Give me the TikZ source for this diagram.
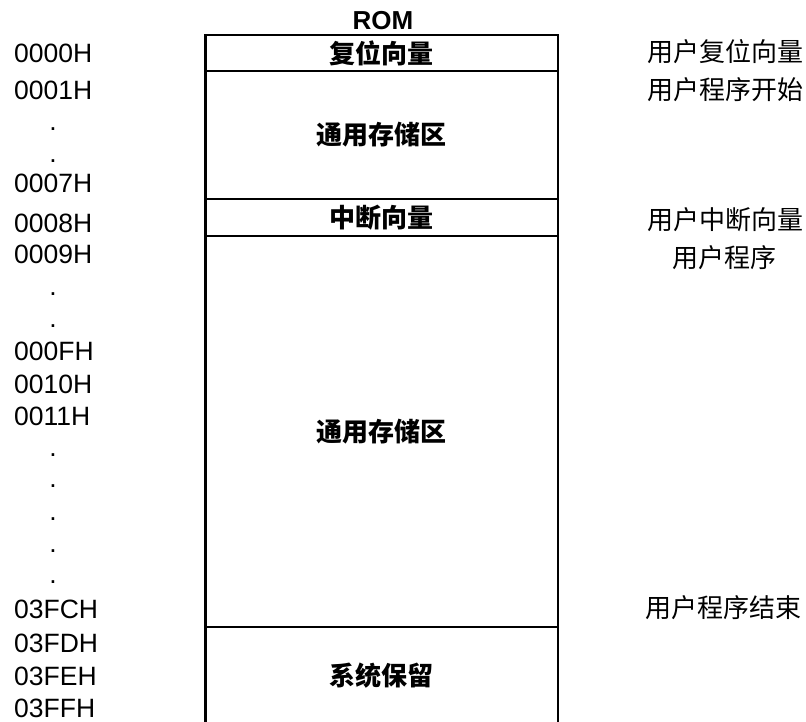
\documentclass[tikz,border=0pt]{standalone}
\usepackage{fontspec}
\setmainfont{Liberation Sans}
\newfontfamily\cjk{Noto Sans CJK SC}
\begin{document}
\begin{tikzpicture}[x=1pt,y=-1pt,
  addr/.style={font=\fontsize{26.5}{30}\selectfont, anchor=base west, inner sep=0pt},
  vdot/.style={font=\fontsize{26.5}{30}\selectfont, anchor=base, inner sep=0pt},
  sect/.style={draw, line width=2.5pt, minimum width=352.5pt, inner sep=0pt,
    font=\cjk\bfseries\fontsize{26}{30}\selectfont},
  note/.style={font=\cjk\fontsize{26}{30}\selectfont, inner sep=0pt, anchor=base west},
  title/.style={font=\bfseries\fontsize{26}{30}\selectfont, inner sep=0pt, anchor=base}]
\useasboundingbox (0,0) rectangle (806,722);

% title
\node[title] (rom) at (383,30) {ROM};

% memory sections
\node[sect, minimum height=36pt]  (s1) at (381.75,53)    {复位向量};
\node[sect, minimum height=128pt] (s2) at (381.75,135)   {通用存储区};
\node[sect, minimum height=37pt]  (s3) at (381.75,217.5) {中断向量};
\node[sect, minimum height=391pt] (s4) at (381.75,431.5) {通用存储区};
\node[sect, minimum height=98pt]  (s5) at (381.75,676)   {系统保留};

% addresses
\node[addr] (a0000) at (14,63)  {0000H};
\node[addr] (a0001) at (14,100) {0001H};
\node[vdot] (d1)    at (53,131) {.};
\node[vdot] (d2)    at (53,163) {.};
\node[addr] (a0007) at (14,193) {0007H};
\node[addr] (a0008) at (14,233) {0008H};
\node[addr] (a0009) at (14,263) {0009H};
\node[vdot] (d3)    at (53,295) {.};
\node[vdot] (d4)    at (53,327) {.};
\node[addr] (a000F) at (14,360) {000FH};
\node[addr] (a0010) at (14,393) {0010H};
\node[addr] (a0011) at (14,425) {0011H};
\node[vdot] (d5)    at (53,456) {.};
\node[vdot] (d6)    at (53,487) {.};
\node[vdot] (d7)    at (53,520) {.};
\node[vdot] (d8)    at (53,552) {.};
\node[vdot] (d9)    at (53,583) {.};
\node[addr] (a03FC) at (14,618) {03FCH};
\node[addr] (a03FD) at (14,652) {03FDH};
\node[addr] (a03FE) at (14,685) {03FEH};
\node[addr] (a03FF) at (14,717) {03FFH};

% notes
\node[note] (n1) at (647,62)  {用户复位向量};
\node[note] (n2) at (647,100) {用户程序开始};
\node[note] (n3) at (647,230) {用户中断向量};
\node[note, anchor=base] (n4) at (724,268) {用户程序};
\node[note] (n5) at (645,617) {用户程序结束};
\end{tikzpicture}
\end{document}
